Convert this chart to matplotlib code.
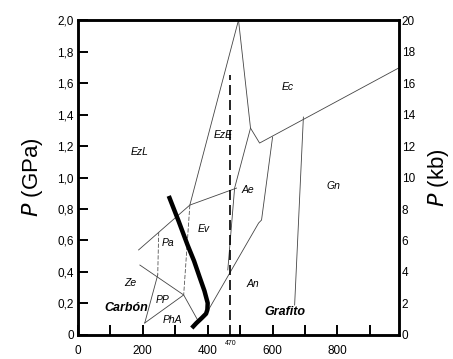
import matplotlib
matplotlib.use('Agg')
import matplotlib.pyplot as plt
import numpy as np

plt.rcParams['font.family'] = ['Liberation Sans', 'DejaVu Sans']

# Axis ticks and labels
t_ticks = [0, 100, 200, 300, 400, 500, 600, 700, 800, 900]
t_labels = ['0', '', '200', '', '400', '', '600', '', '800', '']
p_ticks = [0, 0.2, 0.4, 0.6, 0.8, 1.0, 1.2, 1.4, 1.6, 1.8, 2.0]
p_labels = ['0', '0,2', '0,4', '0,6', '0,8', '1,0', '1,2', '1,4', '1,6', '1,8', '2,0']
kb_ticks = [0, 2, 4, 6, 8, 10, 12, 14, 16, 18, 20]

# Facies boundaries (T in C, P in GPa)
b1_t = [495, 345]
b1_p = [2.0, 0.825]
b1b_t = [345, 326]
b1b_p = [0.825, 0.254]
b2_t = [495, 532, 560, 988]
b2_p = [2.0, 1.314, 1.219, 1.695]
b3_t = [532, 483, 462]
b3_p = [1.314, 0.933, 0.413]
b4_t = [600, 566, 557, 397]
b4_p = [1.257, 0.730, 0.711, 0.140]
b5_t = [695, 668]
b5_p = [1.384, 0.190]
b6_t = [187, 345, 489]
b6_p = [0.540, 0.825, 0.933]
b7_t = [249, 246]
b7_p = [0.654, 0.381]
b8_t = [246, 206]
b8_p = [0.381, 0.076]
b9_t = [191, 326, 369]
b9_p = [0.444, 0.254, 0.095]
b10_t = [206, 326]
b10_p = [0.076, 0.254]

# Geotherm (thick curve)
geo_t = [280, 310, 338, 358, 375, 390, 400, 399, 395, 382, 365, 351]
geo_p = [0.883, 0.725, 0.571, 0.470, 0.368, 0.280, 0.203, 0.160, 0.135, 0.108, 0.075, 0.044]

# Region labels
facies = ['EzL', 'EzE', 'Ec', 'Ae', 'Gn', 'Ev', 'Pa', 'Ze', 'PP', 'PhA', 'An']
facies_t = [191, 449, 646, 523, 788, 388, 277, 160, 262, 292, 538]
facies_p = [1.16, 1.27, 1.575, 0.92, 0.946, 0.673, 0.584, 0.33, 0.225, 0.095, 0.324]

fig = plt.figure(figsize=(4.53, 3.59), dpi=100)
ax = fig.add_axes([0.172, 0.067, 0.709, 0.877])

thin = dict(color='#444444', lw=0.6)
for bt, bp in [(b1_t, b1_p), (b2_t, b2_p), (b3_t, b3_p), (b4_t, b4_p),
               (b5_t, b5_p), (b6_t, b6_p), (b8_t, b8_p), (b9_t, b9_p), (b10_t, b10_p)]:
    ax.plot(bt, bp, **thin)
ax.plot(b1b_t, b1b_p, color='#555555', lw=0.6, ls=(0, (5, 2)))
ax.plot(b7_t, b7_p, color='#555555', lw=0.6, ls=(0, (5, 2)))

# 470 C line
ax.plot([470, 470], [0, 1.65], color='black', lw=1.2, ls=(0, (6, 3)))
ax.text(470, -0.035, '470', fontsize=5, ha='center', va='top')

ax.plot(geo_t, geo_p, color='black', lw=3.2, solid_capstyle='butt')

for name, x, y in zip(facies, facies_t, facies_p):
    ax.text(x, y, name, fontsize=7.5, style='italic', ha='center', va='center')
ax.text(150, 0.171, 'Carbón', fontsize=9, style='italic', weight='bold', ha='center', va='center')
ax.text(637, 0.146, 'Grafito', fontsize=9, style='italic', weight='bold', ha='center', va='center')

ax.set_xlim(0, 990)
ax.set_ylim(0, 2.0)
ax.set_xticks(t_ticks)
ax.set_xticklabels(t_labels, fontsize=8.5)
ax.set_yticks(p_ticks)
ax.set_yticklabels(p_labels, fontsize=8.5)
ax.tick_params(axis='x', direction='in', length=7, width=1.4, pad=7)
ax.tick_params(axis='y', direction='in', length=7, width=1.4, pad=3)
for s in ax.spines.values():
    s.set_linewidth(1.8)
ax.set_ylabel('$P$ (GPa)', fontsize=16, labelpad=9)

ax2 = ax.twinx()
ax2.set_ylim(0, 20)
ax2.set_yticks(kb_ticks)
ax2.set_yticklabels([str(k) for k in kb_ticks], fontsize=8.5)
ax2.tick_params(axis='y', length=0, pad=2)
ax2.set_ylabel('$P$ (kb)', fontsize=16, labelpad=8)
for s in ax2.spines.values():
    s.set_linewidth(1.8)

plt.savefig('out.png', dpi=100)
